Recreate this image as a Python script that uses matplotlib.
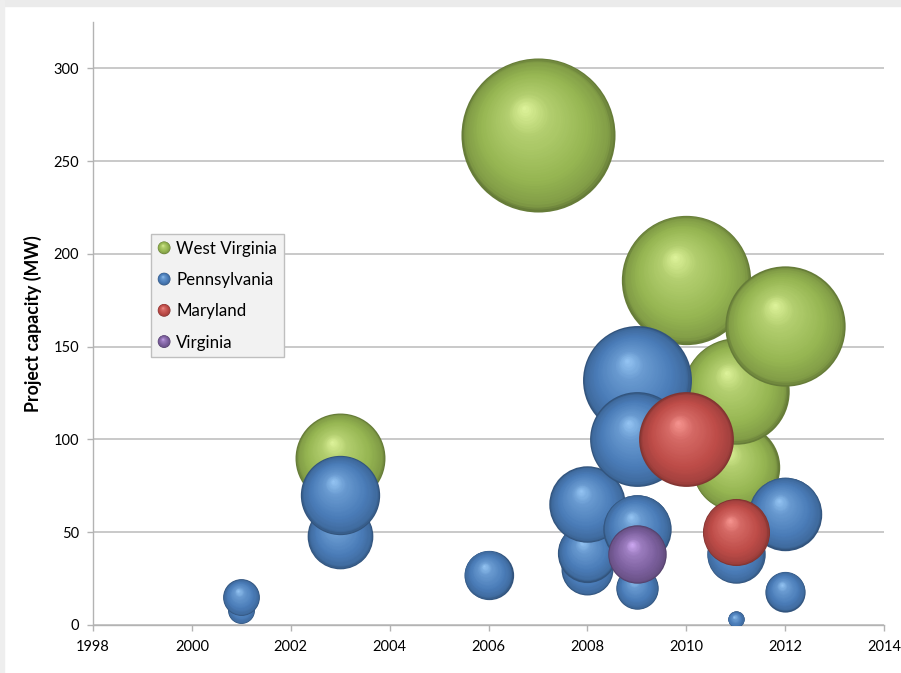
import numpy as np
import matplotlib
matplotlib.use("Agg")
import matplotlib.pyplot as plt
import matplotlib.transforms as mtransforms
from matplotlib.patches import Rectangle, Circle
from matplotlib.legend_handler import HandlerBase
from matplotlib.lines import Line2D

plt.rcParams['font.family'] = ['Lato', 'DejaVu Sans']

# project year / capacity (MW); bubble size is the capacity too
wv_year = [2003, 2007, 2010, 2011, 2011, 2012]
wv_mw = [90, 264, 186, 85, 126, 161]

pa_year = [2001, 2001, 2003, 2003, 2006, 2008, 2008, 2008,
           2009, 2009, 2009, 2009, 2011, 2011, 2012, 2012]
pa_mw = [8, 15, 48, 70, 27, 30, 39, 65, 132, 100, 52, 20, 38, 3, 60, 18]

md_year = [2010, 2011]
md_mw = [100, 50]

va_year = [2009]
va_mw = [38]

states = ['West Virginia', 'Pennsylvania', 'Maryland', 'Virginia']
base_cols = [(150, 182, 82), (74, 124, 184), (190, 76, 72), (124, 96, 158)]
hi_cols = [(232, 252, 165), (160, 208, 252), (255, 160, 155), (218, 180, 255)]

N_LAYERS = 40
HX, HY = -0.18, 0.36      # highlight offset, fraction of radius
SIZE_K = 46.6             # points^2 per MW


def ramp(base, hi, t):
    base = np.array(base) / 255.0
    hi = np.array(hi) / 255.0
    stops = [0.0, 0.06, 0.3, 0.72, 1.0]
    cols = [base * 0.68, base * 0.86, base, base + (hi - base) * 0.35,
            base + (hi - base) * 0.9]
    return tuple(np.interp(t, stops, [c[i] for c in cols]) for i in range(3))


def sphere(ax, fig, x, y, v, base, hi):
    s = SIZE_K * v
    r_pt = np.sqrt(s) / 2.0
    for k in range(N_LAYERS):
        t = k / N_LAYERS
        tr = mtransforms.offset_copy(ax.transData, fig=fig,
                                     x=t * HX * r_pt, y=t * HY * r_pt,
                                     units='points')
        ax.scatter([x], [y], s=s * (1 - t) ** 2, color=ramp(base, hi, t),
                   linewidths=0, transform=tr, zorder=3)


class SphereHandler(HandlerBase):
    def __init__(self, base, hi):
        super().__init__()
        self.base = base
        self.hi = hi

    def create_artists(self, legend, orig_handle, xdescent, ydescent,
                       width, height, fontsize, trans):
        cx = width / 2 - xdescent
        cy = height / 2 - ydescent
        r = 4.6
        arts = []
        for k in range(16):
            t = k / 16
            c = Circle((cx + t * HX * r, cy + t * HY * r), r * (1 - t),
                       facecolor=ramp(self.base, self.hi, t), lw=0,
                       transform=trans)
            arts.append(c)
        return arts


fig = plt.figure(figsize=(9.01, 6.73), dpi=100)
fig.add_artist(Rectangle((0, 1 - 6 / 673), 1, 6 / 673,
                         transform=fig.transFigure, color='#ebebeb', zorder=0))
fig.add_artist(Rectangle((0, 0), 4 / 901, 1,
                         transform=fig.transFigure, color='#eeeeee', zorder=0))

ax = fig.add_axes([93 / 901, 1 - 625 / 673, (884 - 93) / 901, (625 - 22) / 673])
ax.set_xlim(1998, 2014)
ax.set_ylim(0, 325)
ax.set_xticks(range(1998, 2015, 2))
ax.set_yticks(range(0, 301, 50))

gray = '#b3b3b3'
ax.grid(axis='y', color='#c0c0c0', lw=1.2)
ax.set_axisbelow(True)
for side in ['top', 'right']:
    ax.spines[side].set_visible(False)
for side in ['left', 'bottom']:
    ax.spines[side].set_color(gray)
    ax.spines[side].set_linewidth(1.0)
ax.tick_params(axis='both', colors=gray, labelcolor='black', length=4,
               width=1.0, labelsize=10.5)
ax.tick_params(axis='y', pad=6)
ax.tick_params(axis='x', pad=7)
ax.set_ylabel('Project capacity (MW)', fontsize=12.8, fontweight='bold',
              labelpad=8)

series = [(wv_year, wv_mw), (pa_year, pa_mw), (md_year, md_mw), (va_year, va_mw)]
for (yrs, mw), base, hi in zip(series, base_cols, hi_cols):
    for x, v in zip(yrs, mw):
        sphere(ax, fig, x, v, v, base, hi)

handles = [Line2D([], [], lw=0) for _ in states]
hmap = {h: SphereHandler(b, c) for h, b, c in zip(handles, base_cols, hi_cols)}
leg = ax.legend(handles, states, handler_map=hmap, loc='upper left',
                bbox_to_anchor=(151 / 901, 1 - 234 / 673),
                bbox_transform=fig.transFigure, borderaxespad=0,
                fontsize=12.2, frameon=True, fancybox=False,
                handlelength=0.75, handletextpad=0.35, labelspacing=0.9,
                borderpad=0.4)
leg.get_frame().set_facecolor('#f2f2f2')
leg.get_frame().set_edgecolor('#bfbfbf')
leg.get_frame().set_alpha(1)
leg.set_zorder(10)

fig.savefig('out.png', dpi=100)
